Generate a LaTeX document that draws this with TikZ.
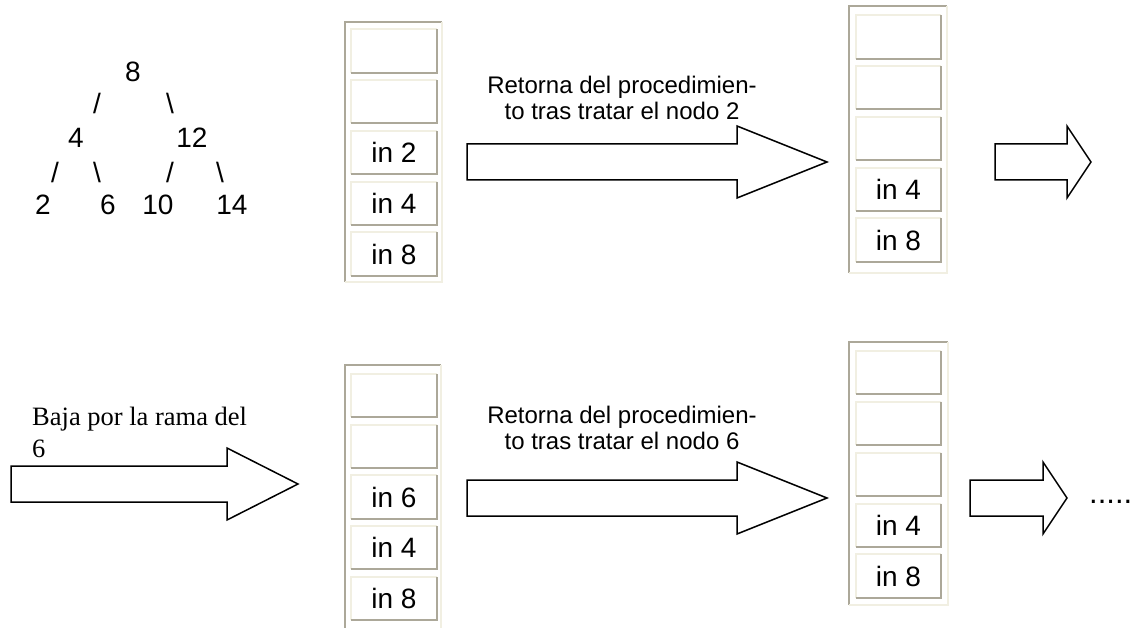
\documentclass[tikz,border=0pt]{standalone}
\usepackage{fontspec}
\newfontfamily\arialf{Liberation Sans}
\newfontfamily\timesf{Liberation Serif}
\usetikzlibrary{positioning}
\definecolor{xpDark} {HTML}{ACA899}
\definecolor{xpLight}{HTML}{F1EFE2}

\begin{document}
\begin{tikzpicture}
[x=1pt, y=-1pt,
  cell/.style  = { minimum width = 85pt, minimum height = 43pt, inner sep = 0pt,
                   font = \arialf\fontsize{28}{32}\selectfont },
  tree/.style  = { inner sep = 0pt, font = \arialf\fontsize{28}{32}\selectfont },
  note/.style  = { inner sep = 0pt, align = center, font = \arialf\fontsize{24}{25.5}\selectfont },
  block/.style = { draw, line width = 1.5pt, line join = miter },
  lit/.style   = { xpLight, line width = 2pt },
  drk/.style   = { xpDark,  line width = 2pt }
]

\useasboundingbox (0,0) rectangle (1138,628);

% Tree:
\node[tree] (n8)  at (133, 72) {8};
\node[tree] (s1)  at ( 97,103) {/};
\node[tree] (s2)  at (170,103) {\textbackslash};
\node[tree] (n4)  at ( 76,138) {4};
\node[tree] (n12) at (192,138) {12};
\node[tree] (s3)  at ( 55,172) {/};
\node[tree] (s4)  at ( 97,172) {\textbackslash};
\node[tree] (s5)  at (170,172) {/};
\node[tree] (s6)  at (220,172) {\textbackslash};
\node[tree] (n2)  at ( 43,205) {2};
\node[tree] (n6)  at (108,205) {6};
\node[tree] (n10) at (158,205) {10};
\node[tree] (n14) at (232,205) {14};

% Stack after going down to 2:
\draw[drk] (345,282) -- (345,22) -- (442,22);
\draw[lit] (442,22) -- (442,282) -- (345,282);
\foreach \i/\t in {0/, 1/, 2/in 2, 3/in 4, 4/in 8} {
  \node[cell] (pa\i) at (394, 51+50.8*\i) {\t};
  \draw[lit] (pa\i.south west) |- (pa\i.north east);
  \draw[drk] (pa\i.north east) |- (pa\i.south west);
}

% Stack after returning from 2:
\draw[drk] (849,273) -- (849,6) -- (947,6);
\draw[lit] (947,6) -- (947,273) -- (849,273);
\foreach \i/\t in {0/, 1/, 2/, 3/in 4, 4/in 8} {
  \node[cell] (pb\i) at (898.5, 37+50.8*\i) {\t};
  \draw[lit] (pb\i.south west) |- (pb\i.north east);
  \draw[drk] (pb\i.north east) |- (pb\i.south west);
}

% Stack after going down to 6 (cut at the bottom):
\draw[drk] (345,630) -- (345,365) -- (441,365);
\draw[lit] (441,365) -- (441,630);
\foreach \i/\t in {0/, 1/, 2/in 6, 3/in 4, 4/in 8} {
  \node[cell] (pc\i) at (394, 395.5+50.75*\i) {\t};
  \draw[lit] (pc\i.south west) |- (pc\i.north east);
  \draw[drk] (pc\i.north east) |- (pc\i.south west);
}

% Stack after returning from 6:
\draw[drk] (849,605) -- (849,342) -- (948,342);
\draw[lit] (948,342) -- (948,605) -- (849,605);
\foreach \i/\t in {0/, 1/, 2/, 3/in 4, 4/in 8} {
  \node[cell] (pd\i) at (898.5, 372.5+50.9*\i) {\t};
  \draw[lit] (pd\i.south west) |- (pd\i.north east);
  \draw[drk] (pd\i.north east) |- (pd\i.south west);
}

% Block arrows (shaft start, head base, tip, middle line):
\foreach \xa/\xb/\xc/\ym in {467/737/827/162, 995/1067/1091/162, 11/227/298/484,
                             467/737/827/498, 970/1043/1067/498} {
  \draw[block] (\xa,{\ym-18}) -- (\xb,{\ym-18}) -- (\xb,{\ym-36}) -- (\xc,\ym)
               -- (\xb,{\ym+36}) -- (\xb,{\ym+18}) -- (\xa,{\ym+18}) -- cycle;
}

% Texts:
\node[note, anchor=north] (ret2) at (622,76)
  {Retorna del procedimien-\\to tras tratar el nodo 2};
\node[note, anchor=north] (ret6) at (622,406)
  {Retorna del procedimien-\\to tras tratar el nodo 6};
\node[anchor=north west, align=left, inner sep=0pt,
      font=\timesf\fontsize{26.5}{32}\selectfont] (baja) at (32,407)
  {Baja por la rama del\\6};
\node[tree, anchor=base west, font=\arialf\fontsize{31}{34}\selectfont] (dots) at (1089,503) {.....};
\end{tikzpicture}
\end{document}
